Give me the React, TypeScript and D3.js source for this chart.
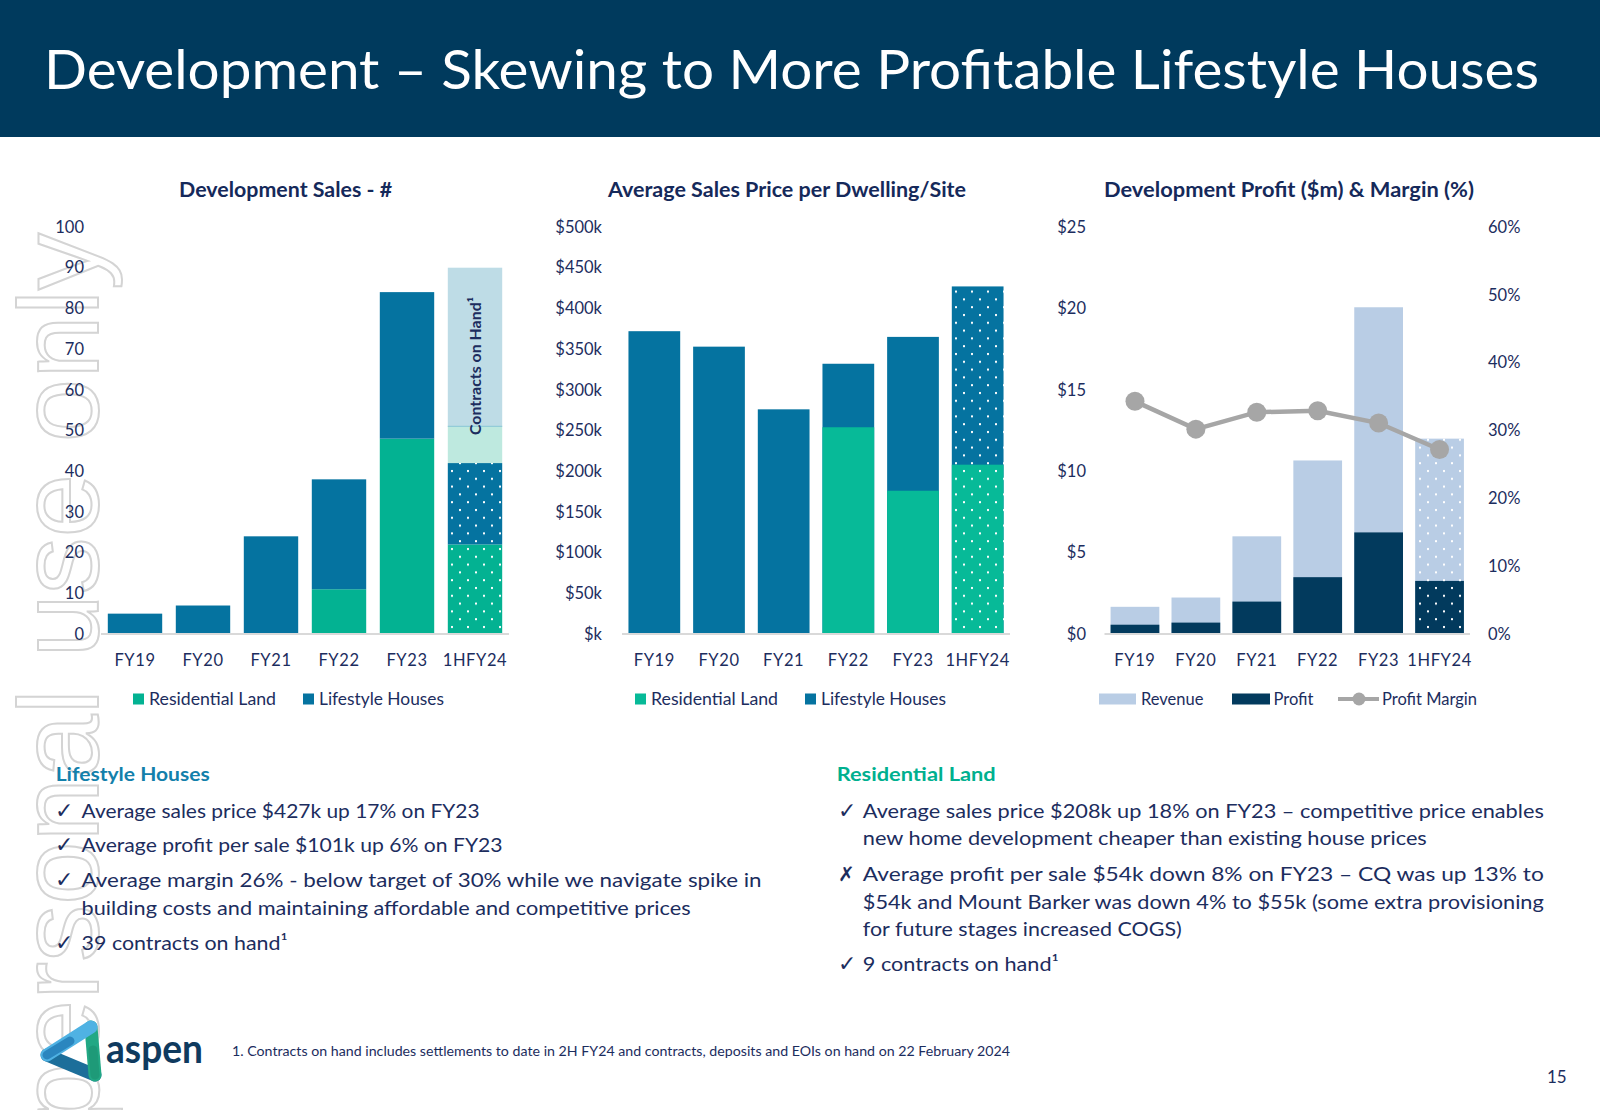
import React from 'react';
import * as d3 from 'd3';

// ---------- DATA ----------
const categories = ['FY19', 'FY20', 'FY21', 'FY22', 'FY23', '1HFY24'];

// Development Sales - #
const salesResidential = [0, 0, 0, 11, 48, 22];
const salesLifestyle = [5, 7, 24, 27, 36, 20];
const contractsResidential = [0, 0, 0, 0, 0, 9];
const contractsLifestyle = [0, 0, 0, 0, 0, 39];
const salesTicks = [0, 10, 20, 30, 40, 50, 60, 70, 80, 90, 100];

// Average Sales Price per Dwelling/Site ($k)
const priceResidential = [0, 0, 0, 254, 176, 208];
const priceLifestyle = [372, 353, 276, 332, 365, 427];
const priceTicks = [0, 50, 100, 150, 200, 250, 300, 350, 400, 450, 500];

// Development Profit ($m) & Margin (%)
const revenue = [1.67, 2.24, 6.0, 10.66, 20.07, 12.0];
const profit = [0.57, 0.7, 1.99, 3.49, 6.24, 3.26];
const profitMargin = [34.3, 30.2, 32.7, 32.9, 31.1, 27.2];
const profitTicks = [0, 5, 10, 15, 20, 25];
const marginTicks = [0, 10, 20, 30, 40, 50, 60];

const leftBullets = [
  { mark: '✓', text: 'Average sales price $427k up 17% on FY23', len: 398 },
  { mark: '✓', text: 'Average profit per sale $101k up 6% on FY23', len: 421 },
  { mark: '✓', text: 'Average margin 26% - below target of 30% while we navigate spike in', len: 680 },
  { mark: '', text: 'building costs and maintaining affordable and competitive prices', len: 609 },
  { mark: '✓', text: '39 contracts on hand¹', len: 206 },
];
const leftBulletY = [817.5, 852, 887, 915, 950];

const rightBullets = [
  { mark: '✓', text: 'Average sales price $208k up 18% on FY23 – competitive price enables', len: 681 },
  { mark: '', text: 'new home development cheaper than existing house prices', len: 564 },
  { mark: '✗', text: 'Average profit per sale $54k down 8% on FY23 – CQ was up 13% to', len: 681 },
  { mark: '', text: '$54k and Mount Barker was down 4% to $55k (some extra provisioning', len: 681 },
  { mark: '', text: 'for future stages increased COGS)', len: 319 },
  { mark: '✓', text: '9 contracts on hand¹', len: 196 },
];
const rightBulletY = [817.5, 845, 880.5, 908.5, 935.5, 971];

// ---------- STYLE ----------
const FONT = "Lato, 'Open Sans', sans-serif";
const HEADER = '#003A5D';
const TEXT = '#1C2D5E';
const TITLE = '#15295A';
const LIFE = '#0573A0';
const RES = '#03B292';
const RES2 = '#07BA98';
const C_LIFE = '#BEDCE6';
const C_RES = '#BEE9DF';
const REV = '#B9CDE5';
const PROF = '#023A5D';
const MARGIN = '#A6A6A6';
const AXIS = '#D9D9D9';

const Y0 = 634;
const Y1 = 227;

function DotPattern({ id, color }: { id: string; color: string }) {
  return (
    <pattern id={id} patternUnits="userSpaceOnUse" width={16} height={15.6}>
      <rect width={16} height={15.6} fill={color} />
      <rect x={3} y={2} width={2} height={2} fill="#fff" />
      <rect x={11} y={9.8} width={2} height={2} fill="#fff" />
    </pattern>
  );
}

function SalesChart() {
  const x = d3.scaleBand().domain(categories).range([101, 509]).paddingInner(0.2).paddingOuter(0.1);
  const y = d3.scaleLinear().domain([0, 100]).range([Y0, Y1]);
  const rows = categories.map((c, i) => ({
    cat: c,
    res: salesResidential[i],
    life: salesLifestyle[i],
    cres: contractsResidential[i],
    clife: contractsLifestyle[i],
  }));
  const keys = ['res', 'life', 'cres', 'clife'];
  const series = d3.stack<any>().keys(keys)(rows);
  const fillFor = (key: string, i: number) => {
    const dotted = i === categories.length - 1;
    if (key === 'res') return dotted ? 'url(#dotRes)' : RES;
    if (key === 'life') return dotted ? 'url(#dotLife)' : LIFE;
    if (key === 'cres') return C_RES;
    return C_LIFE;
  };
  const last = categories[categories.length - 1];
  const lastIdx = categories.length - 1;
  const sepVal = salesResidential[lastIdx] + salesLifestyle[lastIdx] + contractsResidential[lastIdx];
  return (
    <g>
      <text x={285.6} y={196.5} textAnchor="middle" fontFamily={FONT} fontWeight={700} fontSize={20}
        fill={TITLE} textLength={213} lengthAdjust="spacingAndGlyphs">Development Sales - #</text>
      {salesTicks.map((t) => (
        <text key={t} x={84} y={y(t)} dy="0.35em" textAnchor="end" fontFamily={FONT} fontSize={16.5} fill={TEXT}>{t}</text>
      ))}
      {series.map((s) =>
        s.map((d, i) =>
          d[1] - d[0] > 0 ? (
            <rect key={s.key + i} x={x(categories[i])} y={y(d[1])} width={x.bandwidth()}
              height={y(d[0]) - y(d[1])} fill={fillFor(s.key, i)} />
          ) : null
        )
      )}
      <line x1={x(last)} x2={(x(last) as number) + x.bandwidth()} y1={y(sepVal)} y2={y(sepVal)} stroke="#93CCD8" strokeWidth={1.2} />
      <text transform={`translate(${(x(last) as number) + x.bandwidth() / 2 + 6},366) rotate(-90)`} textAnchor="middle"
        fontFamily={FONT} fontWeight={700} fontSize={16} fill={TEXT} textLength={138} lengthAdjust="spacingAndGlyphs">Contracts on Hand¹</text>
      <line x1={101} x2={509} y1={Y0} y2={Y0} stroke={AXIS} strokeWidth={2} />
      {categories.map((c) => (
        <text key={c} x={(x(c) as number) + x.bandwidth() / 2} y={660} dy="0.35em" textAnchor="middle"
          fontFamily={FONT} fontSize={16.5} fill={TEXT} letterSpacing={0.6}>{c}</text>
      ))}
      <rect x={133} y={693.5} width={11} height={11} fill={RES} />
      <text x={149} y={699} dy="0.35em" fontFamily={FONT} fontSize={16.5} fill={TEXT} textLength={127} lengthAdjust="spacingAndGlyphs">Residential Land</text>
      <rect x={303} y={693.5} width={11} height={11} fill={LIFE} />
      <text x={319} y={699} dy="0.35em" fontFamily={FONT} fontSize={16.5} fill={TEXT} textLength={125} lengthAdjust="spacingAndGlyphs">Lifestyle Houses</text>
    </g>
  );
}

function PriceChart() {
  const x = d3.scaleBand().domain(categories).range([622, 1010]).paddingInner(0.2).paddingOuter(0.1);
  const y = d3.scaleLinear().domain([0, 500]).range([Y0, Y1]);
  const lastIdx = categories.length - 1;
  return (
    <g>
      <text x={787} y={196.5} textAnchor="middle" fontFamily={FONT} fontWeight={700} fontSize={20}
        fill={TITLE} textLength={358} lengthAdjust="spacingAndGlyphs">Average Sales Price per Dwelling/Site</text>
      {priceTicks.map((t) => (
        <text key={t} x={602} y={y(t)} dy="0.35em" textAnchor="end" fontFamily={FONT} fontSize={16.5} fill={TEXT}>
          {t === 0 ? '$k' : `$${t}k`}
        </text>
      ))}
      {categories.map((c, i) => (
        <rect key={'l' + c} x={x(c)} y={y(priceLifestyle[i])} width={x.bandwidth()}
          height={Y0 - y(priceLifestyle[i])} fill={i === lastIdx ? 'url(#dotLife)' : LIFE} />
      ))}
      {categories.map((c, i) =>
        priceResidential[i] > 0 ? (
          <rect key={'r' + c} x={x(c)} y={y(priceResidential[i])} width={x.bandwidth()}
            height={Y0 - y(priceResidential[i])} fill={i === lastIdx ? 'url(#dotRes2)' : RES2} />
        ) : null
      )}
      <line x1={622} x2={1010} y1={Y0} y2={Y0} stroke={AXIS} strokeWidth={2} />
      {categories.map((c) => (
        <text key={c} x={(x(c) as number) + x.bandwidth() / 2} y={660} dy="0.35em" textAnchor="middle"
          fontFamily={FONT} fontSize={16.5} fill={TEXT} letterSpacing={0.6}>{c}</text>
      ))}
      <rect x={635} y={693.5} width={11} height={11} fill={RES2} />
      <text x={651} y={699} dy="0.35em" fontFamily={FONT} fontSize={16.5} fill={TEXT} textLength={127} lengthAdjust="spacingAndGlyphs">Residential Land</text>
      <rect x={805} y={693.5} width={11} height={11} fill={LIFE} />
      <text x={821} y={699} dy="0.35em" fontFamily={FONT} fontSize={16.5} fill={TEXT} textLength={125} lengthAdjust="spacingAndGlyphs">Lifestyle Houses</text>
    </g>
  );
}

function ProfitChart() {
  const x = d3.scaleBand().domain(categories).range([1104.5, 1470]).paddingInner(0.2).paddingOuter(0.1);
  const y = d3.scaleLinear().domain([0, 25]).range([Y0, Y1]);
  const ym = d3.scaleLinear().domain([0, 60]).range([Y0, Y1]);
  const lastIdx = categories.length - 1;
  const cx = (c: string) => (x(c) as number) + x.bandwidth() / 2;
  const line = d3.line<number>().x((_, i) => cx(categories[i])).y((d) => ym(d));
  return (
    <g>
      <text x={1289} y={196.5} textAnchor="middle" fontFamily={FONT} fontWeight={700} fontSize={20}
        fill={TITLE} textLength={370} lengthAdjust="spacingAndGlyphs">Development Profit ($m) &amp; Margin (%)</text>
      {profitTicks.map((t) => (
        <text key={t} x={1086} y={y(t)} dy="0.35em" textAnchor="end" fontFamily={FONT} fontSize={16.5} fill={TEXT}>{`$${t}`}</text>
      ))}
      {marginTicks.map((t) => (
        <text key={t} x={1488} y={ym(t)} dy="0.35em" textAnchor="start" fontFamily={FONT} fontSize={16.5} fill={TEXT}>{`${t}%`}</text>
      ))}
      {categories.map((c, i) => (
        <rect key={'rv' + c} x={x(c)} y={y(revenue[i])} width={x.bandwidth()}
          height={Y0 - y(revenue[i])} fill={i === lastIdx ? 'url(#dotRev)' : REV} />
      ))}
      {categories.map((c, i) => (
        <rect key={'pf' + c} x={x(c)} y={y(profit[i])} width={x.bandwidth()}
          height={Y0 - y(profit[i])} fill={i === lastIdx ? 'url(#dotProf)' : PROF} />
      ))}
      <line x1={1104.5} x2={1470} y1={Y0} y2={Y0} stroke={AXIS} strokeWidth={2} />
      <path d={line(profitMargin) || ''} fill="none" stroke={MARGIN} strokeWidth={4.5} />
      {profitMargin.map((m, i) => (
        <circle key={i} cx={cx(categories[i])} cy={ym(m)} r={9.5} fill={MARGIN} />
      ))}
      {categories.map((c) => (
        <text key={c} x={cx(c)} y={660} dy="0.35em" textAnchor="middle"
          fontFamily={FONT} fontSize={16.5} fill={TEXT} letterSpacing={0.6}>{c}</text>
      ))}
      <rect x={1099} y={693.5} width={37} height={11} fill={REV} />
      <text x={1141} y={699} dy="0.35em" fontFamily={FONT} fontSize={16.5} fill={TEXT}>Revenue</text>
      <rect x={1232} y={693.5} width={38} height={11} fill={PROF} />
      <text x={1273.5} y={699} dy="0.35em" fontFamily={FONT} fontSize={16.5} fill={TEXT}>Profit</text>
      <line x1={1338} x2={1379} y1={699} y2={699} stroke={MARGIN} strokeWidth={4} />
      <circle cx={1359} cy={699} r={6.5} fill={MARGIN} />
      <text x={1382} y={699} dy="0.35em" fontFamily={FONT} fontSize={16.5} fill={TEXT}>Profit Margin</text>
    </g>
  );
}

function Bullets({ items, ys, markX, textX }: any) {
  return (
    <g>
      {items.map((b: any, i: number) => (
        <g key={i}>
          {b.mark ? (
            <text x={markX} y={ys[i]} fontFamily="'DejaVu Sans', sans-serif" fontSize={b.mark === '✗' ? 20 : 22}
              fill={TEXT}>{b.mark}</text>
          ) : null}
          <text x={textX} y={ys[i]} fontFamily={FONT} fontSize={20} fill={TEXT}
            textLength={b.len} lengthAdjust="spacingAndGlyphs">{b.text}</text>
        </g>
      ))}
    </g>
  );
}

function Logo() {
  return (
    <g>
      <path d="M44 1055 L96 1078 L92 1024 Z" fill="#fff" />
      <path d="M47 1055 L95 1075" stroke="#1C6E9A" strokeWidth={13} strokeLinecap="round" fill="none" />
      <path d="M91 1027 L95 1075" stroke="#22A884" strokeWidth={13} strokeLinecap="round" fill="none" />
      <path d="M47 1055 L91 1027" stroke="#4FB2E3" strokeWidth={13} strokeLinecap="round" fill="none" />
      <path d="M47 1055 L70 1041" stroke="#2A86BF" strokeWidth={9} strokeLinecap="round" fill="none" />
      <path d="M93 1050 L95 1075" stroke="#1E9A78" strokeWidth={9} strokeLinecap="round" fill="none" />
      <text x={106} y={1062.7} fontFamily={FONT} fontWeight={700} fontSize={40} fill="#0F3A5E"
        textLength={97} lengthAdjust="spacingAndGlyphs">aspen</text>
    </g>
  );
}

export default function App() {
  return (
    <svg width={1600} height={1110} viewBox="0 0 1600 1110"
      style={{ position: 'absolute', left: 0, top: 0, display: 'block', background: '#fff' }}>
      <defs>
        <DotPattern id="dotRes" color={RES} />
        <DotPattern id="dotRes2" color={RES2} />
        <DotPattern id="dotLife" color={LIFE} />
        <DotPattern id="dotRev" color={REV} />
        <DotPattern id="dotProf" color={PROF} />
      </defs>
      <rect width={1600} height={1110} fill="#fff" />
      {/* watermark */}
      <text transform="translate(98,233) rotate(-90)" textAnchor="end" fontFamily="'Liberation Sans', Arial, sans-serif"
        fontSize={114} fill="none" stroke="#D4D4D4" strokeWidth={2}>personal use only</text>
      {/* header */}
      <rect x={0} y={0} width={1600} height={137} fill={HEADER} />
      <text x={44} y={89} fontFamily={FONT} fontSize={54} fill="#fff" textLength={1495}
        lengthAdjust="spacingAndGlyphs">Development – Skewing to More Profitable Lifestyle Houses</text>

      <SalesChart />
      <PriceChart />
      <ProfitChart />

      {/* commentary */}
      <text x={55.7} y={780.7} fontFamily={FONT} fontWeight={700} fontSize={18.5} fill="#1380AB"
        textLength={154} lengthAdjust="spacingAndGlyphs">Lifestyle Houses</text>
      <Bullets items={leftBullets} ys={leftBulletY} markX={55} textX={81.6} />
      <text x={836.7} y={780.7} fontFamily={FONT} fontWeight={700} fontSize={18.5} fill="#00B08F"
        textLength={159} lengthAdjust="spacingAndGlyphs">Residential Land</text>
      <Bullets items={rightBullets} ys={rightBulletY} markX={838} textX={862.8} />

      <Logo />
      <text x={232} y={1056} fontFamily={FONT} fontSize={13.5} fill={TEXT} textLength={778}
        lengthAdjust="spacingAndGlyphs">1. Contracts on hand includes settlements to date in 2H FY24 and contracts, deposits and EOIs on hand on 22 February 2024</text>
      <text x={1547} y={1083} fontFamily={FONT} fontSize={17} fill={TEXT}>15</text>
    </svg>
  );
}
